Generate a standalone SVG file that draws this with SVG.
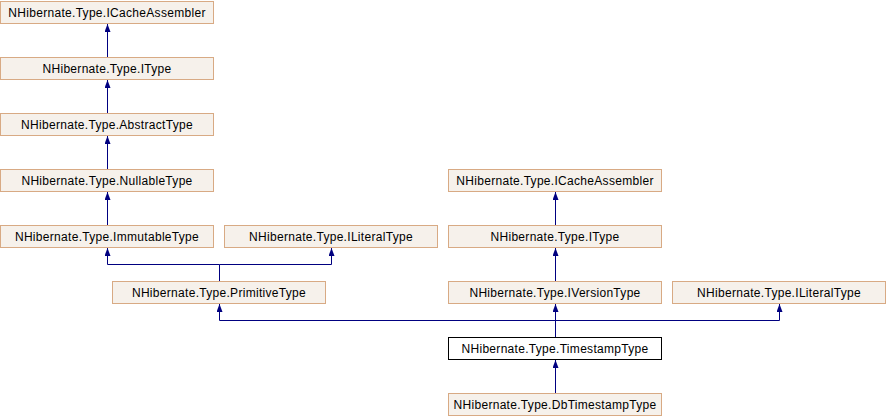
<svg xmlns="http://www.w3.org/2000/svg" width="886" height="416" viewBox="0 0 886 416">
<style>
.n rect{fill:#F6F1EB;stroke:#D8AA84;stroke-width:1}
.n.cur rect{fill:#FFFFFF;stroke:#000000}
.n text{font-family:"Liberation Sans",Arial,sans-serif;font-size:12px;letter-spacing:0.3px;fill:#000000;text-anchor:middle}
.e{fill:none;stroke:#000080;stroke-width:1}
</style>
<defs>
<marker id="ah" markerWidth="6" markerHeight="8" refX="3" refY="0" orient="0" markerUnits="userSpaceOnUse" viewBox="0 0 6 8">
<path d="M0,8 L3,0 L6,8 Z" fill="#000080"/>
</marker>
</defs>
<rect width="886" height="416" fill="#FFFFFF"/>
<g id="connectors">
<path class="e" d="M107.5,57 V24" marker-end="url(#ah)"/>
<path class="e" d="M107.5,113 V80" marker-end="url(#ah)"/>
<path class="e" d="M107.5,169 V136" marker-end="url(#ah)"/>
<path class="e" d="M107.5,225 V192" marker-end="url(#ah)"/>
<path class="e" d="M219.5,281 V264.5 H107.5 V248" marker-end="url(#ah)"/>
<path class="e" d="M219.5,264.5 H331.5 V248" marker-end="url(#ah)"/>
<path class="e" d="M555.5,225 V192" marker-end="url(#ah)"/>
<path class="e" d="M555.5,281 V248" marker-end="url(#ah)"/>
<path class="e" d="M555.5,337 V304" marker-end="url(#ah)"/>
<path class="e" d="M555.5,320.5 H219.5 V304" marker-end="url(#ah)"/>
<path class="e" d="M555.5,320.5 H779.5 V304" marker-end="url(#ah)"/>
<path class="e" d="M555.5,393 V360" marker-end="url(#ah)"/>
</g>
<g id="n_icache1" class="n"><rect x="0.5" y="1.5" width="213" height="22"/><text x="107" y="17">NHibernate.Type.ICacheAssembler</text></g>
<g id="n_itype1" class="n"><rect x="0.5" y="57.5" width="213" height="22"/><text x="107" y="73">NHibernate.Type.IType</text></g>
<g id="n_abstract" class="n"><rect x="0.5" y="113.5" width="213" height="22"/><text x="107" y="129">NHibernate.Type.AbstractType</text></g>
<g id="n_nullable" class="n"><rect x="0.5" y="169.5" width="213" height="22"/><text x="107" y="185">NHibernate.Type.NullableType</text></g>
<g id="n_immutable" class="n"><rect x="0.5" y="225.5" width="213" height="22"/><text x="107" y="241">NHibernate.Type.ImmutableType</text></g>
<g id="n_iliteral1" class="n"><rect x="224.5" y="225.5" width="213" height="22"/><text x="331" y="241">NHibernate.Type.ILiteralType</text></g>
<g id="n_primitive" class="n"><rect x="112.5" y="281.5" width="213" height="22"/><text x="219" y="297">NHibernate.Type.PrimitiveType</text></g>
<g id="n_icache2" class="n"><rect x="448.5" y="169.5" width="213" height="22"/><text x="555" y="185">NHibernate.Type.ICacheAssembler</text></g>
<g id="n_itype2" class="n"><rect x="448.5" y="225.5" width="213" height="22"/><text x="555" y="241">NHibernate.Type.IType</text></g>
<g id="n_iversion" class="n"><rect x="448.5" y="281.5" width="213" height="22"/><text x="555" y="297">NHibernate.Type.IVersionType</text></g>
<g id="n_iliteral2" class="n"><rect x="672.5" y="281.5" width="213" height="22"/><text x="779" y="297">NHibernate.Type.ILiteralType</text></g>
<g id="n_timestamp" class="n cur"><rect x="448.5" y="337.5" width="213" height="22"/><text x="555" y="353">NHibernate.Type.TimestampType</text></g>
<g id="n_dbtimestamp" class="n"><rect x="448.5" y="393.5" width="213" height="22"/><text x="555" y="409">NHibernate.Type.DbTimestampType</text></g>
</svg>
